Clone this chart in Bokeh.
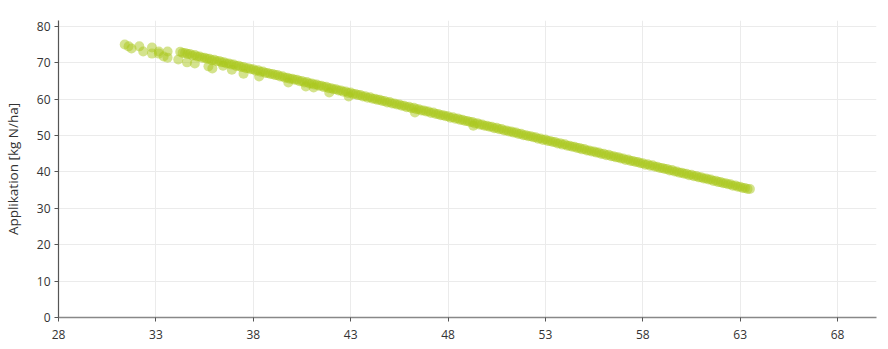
from bokeh.plotting import figure
from bokeh.models import Range1d, FixedTicker, ColumnDataSource
from bokeh.embed import file_html
from bokeh.resources import INLINE

# Dense band of points, first set
band_x = [34.25, 34.5, 34.75, 35.0, 35.25, 35.5, 35.75, 36.0, 36.25, 36.5, 36.75, 37.0, 37.25, 37.5, 37.75,
          38.0, 38.25, 38.5, 38.75, 39.0, 39.25, 39.5, 39.75, 40.0, 40.25, 40.5, 40.75, 41.0, 41.25, 41.5, 41.75,
          42.0, 42.25, 42.5, 42.75, 43.0, 43.25, 43.5, 43.75, 44.0, 44.25, 44.5, 44.75, 45.0, 45.25, 45.5, 45.75,
          46.0, 46.25, 46.5, 46.75, 47.0, 47.25, 47.5, 47.75, 48.0, 48.25, 48.5, 48.75, 49.0, 49.25, 49.5, 49.75,
          50.0, 50.25, 50.5, 50.75, 51.0, 51.25, 51.5, 51.75, 52.0, 52.25, 52.5, 52.75, 53.0, 53.25, 53.5, 53.75,
          54.0, 54.25, 54.5, 54.75, 55.0, 55.25, 55.5, 55.75, 56.0, 56.25, 56.5, 56.75, 57.0, 57.25, 57.5, 57.75,
          58.0, 58.25, 58.5, 58.75, 59.0, 59.25, 59.5, 59.75, 60.0, 60.25, 60.5, 60.75, 61.0, 61.25, 61.5, 61.75,
          62.0, 62.25, 62.5, 62.75, 63.0, 63.25, 63.5]
band_y = [73.0, 72.7, 72.4, 72.1, 71.7, 71.4, 71.1, 70.8, 70.5, 70.1, 69.8, 69.5, 69.2, 68.8, 68.5,
          68.2, 67.9, 67.6, 67.2, 66.9, 66.6, 66.3, 65.9, 65.6, 65.3, 65.0, 64.7, 64.3, 64.0, 63.7, 63.4,
          63.0, 62.7, 62.4, 62.1, 61.8, 61.4, 61.1, 60.8, 60.5, 60.1, 59.8, 59.5, 59.2, 58.8, 58.5, 58.2,
          57.9, 57.6, 57.2, 56.9, 56.6, 56.3, 55.9, 55.6, 55.3, 55.0, 54.7, 54.3, 54.0, 53.7, 53.4, 53.0,
          52.7, 52.4, 52.1, 51.8, 51.4, 51.1, 50.8, 50.5, 50.1, 49.8, 49.5, 49.2, 48.9, 48.5, 48.2, 47.9,
          47.6, 47.2, 46.9, 46.6, 46.3, 45.9, 45.6, 45.3, 45.0, 44.7, 44.3, 44.0, 43.7, 43.4, 43.0, 42.7,
          42.4, 42.1, 41.8, 41.4, 41.1, 40.8, 40.5, 40.1, 39.8, 39.5, 39.2, 38.9, 38.5, 38.2, 37.9, 37.6,
          37.2, 36.9, 36.6, 36.3, 35.9, 35.6, 35.3]

# Dense band of points, second set (in between the first)
band2_x = [34.375, 34.625, 34.875, 35.125, 35.375, 35.625, 35.875, 36.125, 36.375, 36.625, 36.875, 37.125,
           37.375, 37.625, 37.875,
           38.125, 38.375, 38.625, 38.875, 39.125, 39.375, 39.625, 39.875, 40.125, 40.375, 40.625, 40.875,
           41.125, 41.375, 41.625, 41.875, 42.125, 42.375, 42.625, 42.875, 43.125, 43.375, 43.625, 43.875,
           44.125, 44.375, 44.625, 44.875, 45.125, 45.375, 45.625, 45.875, 46.125, 46.375, 46.625, 46.875,
           47.125, 47.375, 47.625, 47.875, 48.125, 48.375, 48.625, 48.875, 49.125, 49.375, 49.625, 49.875,
           50.125, 50.375, 50.625, 50.875, 51.125, 51.375, 51.625, 51.875, 52.125, 52.375, 52.625, 52.875,
           53.125, 53.375, 53.625, 53.875, 54.125, 54.375, 54.625, 54.875, 55.125, 55.375, 55.625, 55.875,
           56.125, 56.375, 56.625, 56.875, 57.125, 57.375, 57.625, 57.875, 58.125, 58.375, 58.625, 58.875,
           59.125, 59.375, 59.625, 59.875, 60.125, 60.375, 60.625, 60.875, 61.125, 61.375, 61.625, 61.875,
           62.125, 62.375, 62.625, 62.875, 63.125, 63.375]
band2_y = [72.7, 72.4, 72.0, 71.7, 71.4, 71.1, 70.7, 70.4, 70.1, 69.8, 69.5, 69.1,
           68.8, 68.5, 68.2,
           67.8, 67.5, 67.2, 66.9, 66.6, 66.2, 65.9, 65.6, 65.3, 64.9, 64.6, 64.3,
           64.0, 63.7, 63.3, 63.0, 62.7, 62.4, 62.0, 61.7, 61.4, 61.1, 60.7, 60.4,
           60.1, 59.8, 59.5, 59.1, 58.8, 58.5, 58.2, 57.8, 57.5, 57.2, 56.9, 56.6,
           56.2, 55.9, 55.6, 55.3, 54.9, 54.6, 54.3, 54.0, 53.7, 53.3, 53.0, 52.7,
           52.4, 52.0, 51.7, 51.4, 51.1, 50.8, 50.4, 50.1, 49.8, 49.5, 49.1, 48.8,
           48.5, 48.2, 47.8, 47.5, 47.2, 46.9, 46.6, 46.2, 45.9, 45.6, 45.3, 44.9,
           44.6, 44.3, 44.0, 43.7, 43.3, 43.0, 42.7, 42.4, 42.0, 41.7, 41.4, 41.1,
           40.8, 40.4, 40.1, 39.8, 39.5, 39.1, 38.8, 38.5, 38.2, 37.9, 37.5, 37.2,
           36.9, 36.6, 36.2, 35.9, 35.6, 35.3]

# Scattered points
scatter_x = [31.4, 31.6, 31.75, 32.15, 32.35, 32.8, 32.8, 33.15, 33.15, 33.4, 33.6, 33.6, 34.15, 34.6, 35.0,
             35.7, 35.9, 36.45, 36.9, 37.5, 38.3, 39.8, 40.7, 41.1, 41.9, 42.9, 46.3, 49.3]
scatter_y = [75.0, 74.5, 73.9, 74.5, 73.1, 74.2, 72.5, 73.1, 72.5, 71.7, 73.1, 71.4, 70.9, 70.1, 69.8,
             69.0, 68.4, 69.2, 68.1, 67.0, 66.2, 64.6, 63.5, 63.2, 61.8, 60.7, 56.3, 52.7]

x_ticks = [28, 33, 38, 43, 48, 53, 58, 63, 68]
y_ticks = [0, 10, 20, 30, 40, 50, 60, 70, 80]
y_label = "Applikation [kg N/ha]"

COLOR = "#a9c81c"
FONT = "Open Sans"

p = figure(width=888, height=349, output_backend="svg", toolbar_location=None,
           x_range=Range1d(28, 70), y_range=Range1d(0, 81.6),
           min_border_left=57, min_border_right=12, min_border_top=20, min_border_bottom=32)
p.outline_line_color = None
p.background_fill_color = "white"
p.border_fill_color = "white"

p.xaxis.ticker = FixedTicker(ticks=x_ticks)
p.yaxis.ticker = FixedTicker(ticks=y_ticks)
p.yaxis.axis_label = y_label

for ax in (p.xaxis[0], p.yaxis[0]):
    ax.major_label_text_font = FONT
    ax.major_label_text_font_size = "12px"
    ax.major_label_text_color = "#333333"
    ax.axis_label_text_font = FONT
    ax.axis_label_text_font_size = "13.5px"
    ax.axis_label_text_font_style = "normal"
    ax.axis_label_text_color = "#333333"
    ax.minor_tick_line_color = None
    ax.major_tick_in = 0
    ax.major_tick_out = 4
    ax.major_tick_line_color = "#555555"
p.yaxis.axis_line_color = "#555555"
p.xaxis.axis_line_color = "#888888"
p.xaxis.axis_line_width = 1.5
p.yaxis.axis_line_width = 1.2
p.xaxis.major_label_standoff = 8
p.yaxis.major_label_standoff = 4
p.yaxis.axis_label_standoff = 12

p.xgrid.grid_line_color = "#ebebeb"
p.ygrid.grid_line_color = "#ebebeb"

band = ColumnDataSource(dict(x=band_x, y=band_y))
band2 = ColumnDataSource(dict(x=band2_x, y=band2_y))
scat = ColumnDataSource(dict(x=scatter_x, y=scatter_y))
for src in (scat, band, band2):
    p.scatter("x", "y", source=src, size=10, fill_color=COLOR, line_color=COLOR,
              fill_alpha=0.5, line_alpha=0.0)

open("out.html", "w").write(file_html(p, INLINE))
